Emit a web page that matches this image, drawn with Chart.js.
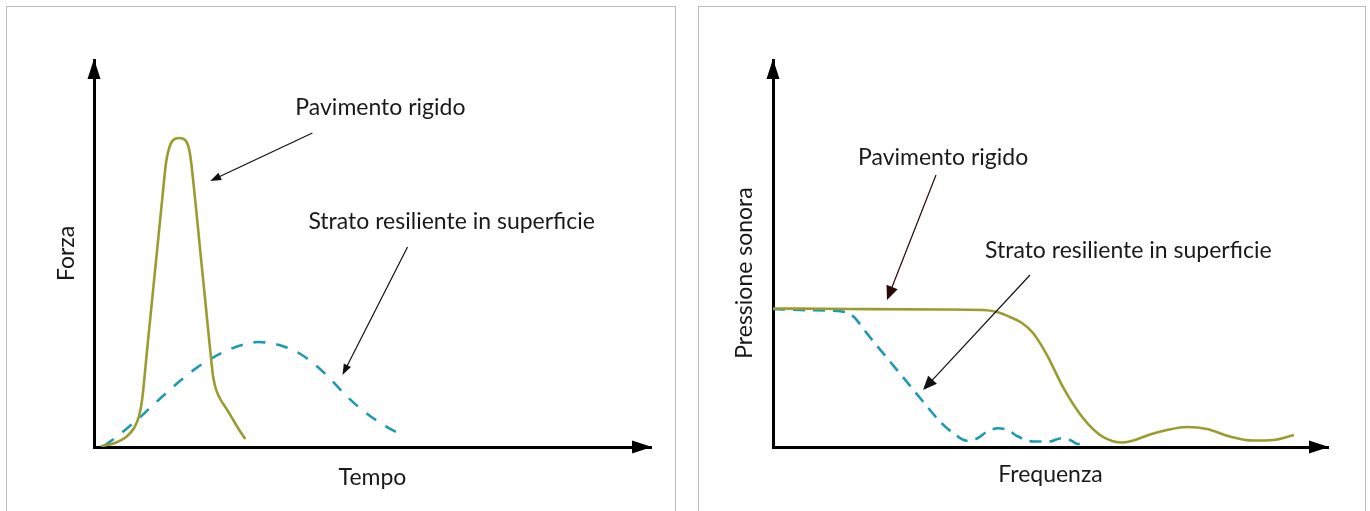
<!DOCTYPE html>
<html>
<head>
<meta charset="utf-8">
<script src="https://cdn.jsdelivr.net/npm/chart.js@4.4.1/dist/chart.umd.min.js"></script>
<style>
  html, body { margin: 0; padding: 0; background: #fff; }
  body { width: 1370px; height: 511px; position: relative; overflow: hidden; }
  .panel { position: absolute; top: 6px; height: 520px; border: 1px solid #bdbdbd; box-sizing: border-box; background: #fff; }
  #p1 { left: 6px; width: 670px; }
  #p2 { left: 698px; width: 668px; }
  canvas { position: absolute; left: 0; top: 0; }
</style>
</head>
<body>
<div class="panel" id="p1"><canvas id="c1" width="668" height="504"></canvas></div>
<div class="panel" id="p2"><canvas id="c2" width="666" height="504"></canvas></div>
<script>
// ---------- Data (arbitrary units 0-100) ----------
// Left chart: Forza vs Tempo
const rigidTime  = [1.26, 3.78, 5.76, 7.19, 8.09, 8.63, 9.53, 10.43, 11.33, 12.23, 12.95, 13.49, 14.21, 15.29, 16.37, 16.91, 17.27, 18.17, 19.06, 20.14, 20.86, 21.40, 21.94, 22.66, 23.92, 25.00, 26.08, 27.16];
const rigidForce = [0.26, 1.03, 2.58, 4.91, 8.01, 12.14, 25.06, 37.98, 50.90, 63.82, 73.64, 77.26, 79.33, 79.84, 79.33, 77.78, 75.45, 63.82, 50.90, 35.40, 25.06, 18.09, 14.73, 12.40, 9.56, 6.98, 4.39, 2.07];
const resTime    = [1.80, 3.78, 5.58, 7.73, 10.07, 12.77, 15.47, 18.17, 20.86, 24.46, 27.16, 29.50, 31.65, 34.35, 37.05, 39.75, 42.45, 45.14, 48.38, 51.98, 55.94];
const resForce   = [0.26, 2.33, 4.40, 7.00, 10.10, 13.70, 17.10, 20.20, 22.70, 25.30, 26.61, 27.13, 26.87, 25.84, 24.03, 21.19, 17.57, 13.44, 9.30, 5.68, 2.58];

// Right chart: Pressione sonora vs Frequenza
const rigidFreq  = [0, 13.87, 30.09, 37.84, 40.36, 42.70, 44.86, 46.85, 49.37, 52.25, 55.86, 58.92, 61.08, 62.88, 65.23, 67.93, 70.99, 74.59, 78.20, 82.34, 86.49, 90.09, 93.87];
const rigidPress = [35.79, 35.66, 35.53, 35.40, 34.88, 33.59, 32.04, 29.46, 23.77, 15.50, 7.49, 3.10, 1.55, 1.16, 1.81, 3.23, 4.39, 5.17, 4.65, 2.71, 1.68, 1.81, 3.10];
const resFreq    = [0, 4.86, 10.27, 12.43, 13.87, 14.95, 16.04, 18.02, 21.08, 24.14, 27.03, 30.09, 32.43, 34.95, 36.76, 38.74, 40.54, 42.34, 43.96, 46.85, 49.91, 51.71, 53.51, 54.95, 56.58];
const resPress   = [35.66, 35.40, 35.27, 35.01, 34.37, 33.07, 31.01, 27.39, 22.09, 16.80, 11.76, 6.59, 3.62, 1.63, 2.20, 4.13, 4.83, 4.39, 2.84, 1.42, 1.42, 2.20, 1.81, 0.78, 1.55];

const labelRigid = 'Pavimento rigido';
const labelRes = 'Strato resiliente in superficie';

// ---------- Styling ----------
const GREEN = '#9b9c2f';
const BLUE = '#1a9ab3';
const FONT = 'Lato, "Open Sans", sans-serif';
const FSIZE = 23;
Chart.defaults.font.family = FONT;
Chart.defaults.color = '#1a1a1a';

const pts = (xs, ys) => xs.map((v, i) => ({ x: v, y: ys[i] }));

function tri(ctx, tx, ty, ang, len, half) {
  ctx.save();
  ctx.translate(tx, ty);
  ctx.rotate(ang);
  ctx.beginPath();
  ctx.moveTo(0, 0);
  ctx.lineTo(-len, -half);
  ctx.lineTo(-len, half);
  ctx.closePath();
  ctx.fill();
  ctx.restore();
}

const deco = {
  id: 'deco',
  afterDraw(chart, args, opts) {
    const { ctx, chartArea: a, scales: { x, y } } = chart;
    ctx.save();
    ctx.fillStyle = '#000';
    // axis arrowheads
    tri(ctx, a.right + 1, a.bottom, 0, 20, 6.5);
    tri(ctx, a.left, a.top - 1, -Math.PI / 2, 20, 6.5);
    // callout texts
    ctx.font = FSIZE + 'px ' + FONT;
    ctx.fillStyle = '#1a1a1a';
    ctx.textBaseline = 'middle';
    ctx.textAlign = 'left';
    for (const t of opts.texts) {
      ctx.fillText(t.text, x.getPixelForValue(t.x), y.getPixelForValue(t.y));
    }
    // callout arrows
    for (const ar of opts.arrows) {
      const x0 = x.getPixelForValue(ar.from[0]), y0 = y.getPixelForValue(ar.from[1]);
      const x1 = x.getPixelForValue(ar.to[0]), y1 = y.getPixelForValue(ar.to[1]);
      const ang = Math.atan2(y1 - y0, x1 - x0);
      ctx.strokeStyle = ar.color || '#111';
      ctx.fillStyle = ar.color || '#111';
      ctx.lineWidth = 1.2;
      ctx.beginPath();
      ctx.moveTo(x0, y0);
      ctx.lineTo(x1 - Math.cos(ang) * ar.head * 0.8, y1 - Math.sin(ang) * ar.head * 0.8);
      ctx.stroke();
      tri(ctx, x1, y1, ang, ar.head, ar.half);
    }
    // free-standing axis title
    if (opts.yTitle) {
      ctx.save();
      ctx.translate(opts.yTitle.px, opts.yTitle.py);
      ctx.rotate(-Math.PI / 2);
      ctx.textAlign = 'center';
      ctx.fillStyle = '#1a1a1a';
      ctx.fillText(opts.yTitle.text, 0, 0);
      ctx.restore();
    }
    ctx.restore();
  }
};

function axis(titleOpts) {
  return {
    type: 'linear', min: 0, max: 100,
    ticks: { display: false },
    grid: { display: false, drawTicks: false },
    border: { display: true, color: '#000', width: 3 },
    title: titleOpts
  };
}

function baseOptions() {
  return {
    responsive: false,
    devicePixelRatio: 1,
    animation: false,
    events: [],
    plugins: { legend: { display: false }, tooltip: { enabled: false } },
    elements: { point: { radius: 0 } }
  };
}

// ---------- Left chart ----------
const opt1 = baseOptions();
opt1.layout = { padding: { left: 0, right: 24, top: 53, bottom: 19.2 } };
opt1.scales = {
  x: axis({ display: true, text: 'Tempo', font: { size: FSIZE }, padding: { top: 17.2, bottom: 0 } }),
  y: axis({ display: true, text: 'Forza', font: { size: FSIZE }, padding: { top: 46.2, bottom: 13.2 } })
};
opt1.plugins.deco = {
  texts: [
    { text: labelRigid, x: 36.15, y: 87.6 },
    { text: labelRes, x: 38.49, y: 58.14 }
  ],
  arrows: [
    { from: [39.21, 81.14], to: [20.86, 68.73], head: 11, half: 4 },
    { from: [56.29, 51.68], to: [44.60, 18.60], head: 11, half: 4 }
  ]
};
new Chart(document.getElementById('c1'), {
  type: 'line',
  data: {
    datasets: [
      { label: labelRigid, data: pts(rigidTime, rigidForce), borderColor: GREEN, borderWidth: 2.6, cubicInterpolationMode: 'monotone', fill: false },
      { label: labelRes, data: pts(resTime, resForce), borderColor: BLUE, borderWidth: 2.6, borderDash: [12, 11], cubicInterpolationMode: 'monotone', fill: false }
    ]
  },
  options: opt1,
  plugins: [deco]
});

// ---------- Right chart ----------
const opt2 = baseOptions();
opt2.layout = { padding: { left: 74, right: 37, top: 53, bottom: 22.2 } };
opt2.scales = {
  x: axis({ display: true, text: 'Frequenza', font: { size: FSIZE }, padding: { top: 14.2, bottom: 0 } }),
  y: axis({ display: false, text: 'Pressione sonora' })
};
opt2.plugins.deco = {
  texts: [
    { text: labelRigid, x: 15.32, y: 74.68 },
    { text: labelRes, x: 38.2, y: 50.65 }
  ],
  arrows: [
    { from: [29.37, 70.28], to: [20.54, 37.98], head: 14, half: 6, color: '#2b0707' },
    { from: [46.31, 44.44], to: [27.03, 14.73], head: 14, half: 6 }
  ],
  yTitle: { text: 'Pressione sonora', px: 46, py: 266 }
};
new Chart(document.getElementById('c2'), {
  type: 'line',
  data: {
    datasets: [
      { label: labelRigid, data: pts(rigidFreq, rigidPress), borderColor: GREEN, borderWidth: 2.6, cubicInterpolationMode: 'monotone', fill: false },
      { label: labelRes, data: pts(resFreq, resPress), borderColor: BLUE, borderWidth: 2.6, borderDash: [12, 8], cubicInterpolationMode: 'monotone', fill: false }
    ]
  },
  options: opt2,
  plugins: [deco]
});
</script>
</body>
</html>
